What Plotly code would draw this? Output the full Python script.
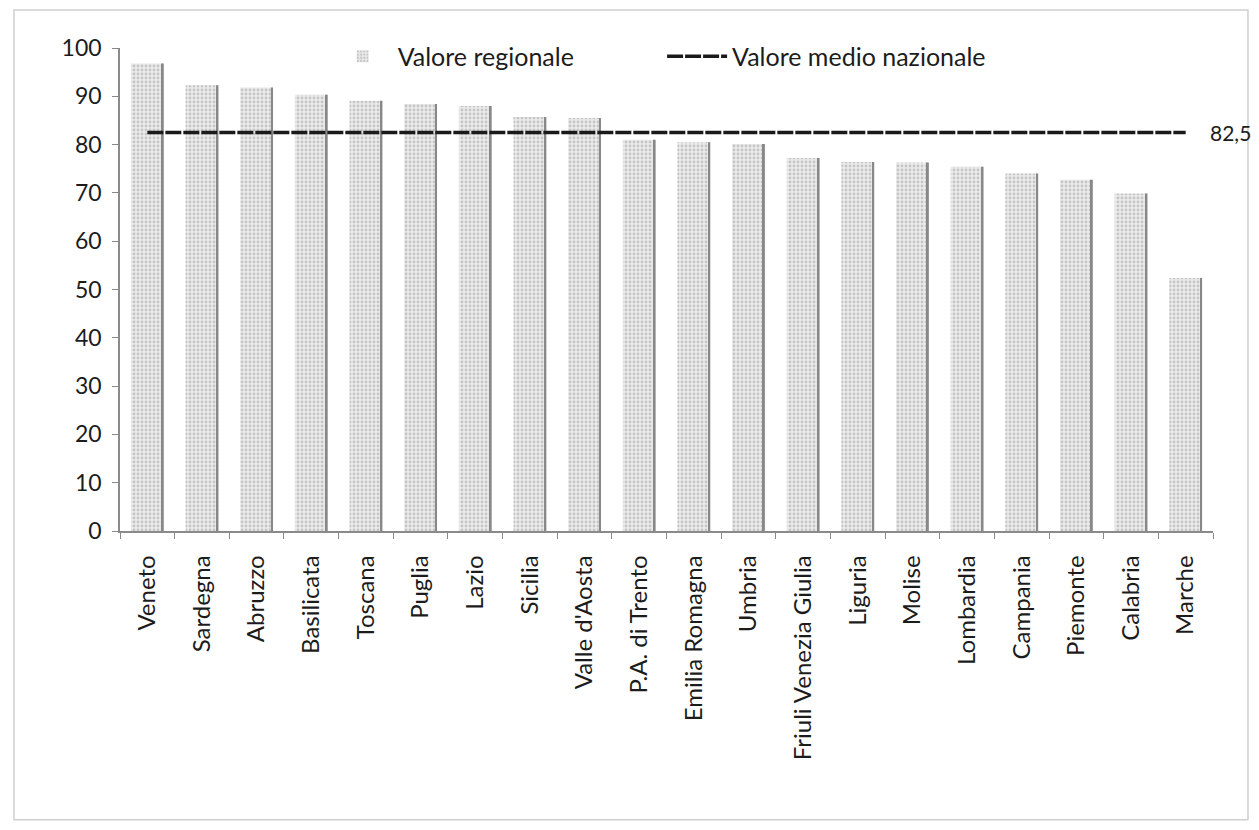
import plotly.graph_objects as go

regions = ["Veneto", "Sardegna", "Abruzzo", "Basilicata", "Toscana", "Puglia", "Lazio",
           "Sicilia", "Valle d'Aosta", "P.A. di Trento", "Emilia Romagna", "Umbria",
           "Friuli Venezia Giulia", "Liguria", "Molise", "Lombardia", "Campania",
           "Piemonte", "Calabria", "Marche"]
valore_regionale = [96.8, 92.3, 91.8, 90.3, 89.1, 88.4, 88.0, 85.7, 85.5, 81.0,
                    80.5, 80.1, 77.2, 76.4, 76.3, 75.4, 74.0, 72.7, 69.9, 52.4]
valore_nazionale = 82.5
y_ticks = [0, 10, 20, 30, 40, 50, 60, 70, 80, 90, 100]

FONT = "Lato"
TXT = "#1c1c1c"
PAD = "\u00a0" * 13

fig = go.Figure()
fig.add_trace(go.Bar(
    x=regions, y=valore_regionale, name="Valore regionale" + PAD,
    width=0.6, offset=-0.3,
    marker=dict(color="#e2e2e2", line=dict(width=0),
                pattern=dict(shape=".", fgcolor="#a0a0a0", bgcolor="#ebebeb",
                             size=4, solidity=0.4)),
))
fig.add_trace(go.Bar(
    x=regions, y=valore_regionale, showlegend=False, hoverinfo="skip",
    width=0.035, offset=0.265,
    marker=dict(color="#888888", line=dict(width=0)),
))
fig.add_trace(go.Scatter(
    x=regions, y=[valore_nazionale] * len(regions), mode="lines",
    name="Valore medio nazionale",
    line=dict(color="#1a1a1a", width=3.5, dash="16px,2px"),
))
fig.add_annotation(x=regions[-1], y=valore_nazionale, text=str(valore_nazionale).replace(".", ","),
                   xref="x", yref="y", xanchor="left", showarrow=False, xshift=22,
                   font=dict(family=FONT, size=21, color=TXT))

fig.add_shape(type="rect", xref="paper", yref="paper",
              x0=-0.097, x1=1.032, y0=-0.598, y1=1.0787,
              line=dict(color="#cfcfcf", width=1.5))

fig.update_layout(
    width=1251, height=814,
    margin=dict(l=112, r=46, t=40, b=291),
    paper_bgcolor="white", plot_bgcolor="white",
    barmode="overlay",
    font=dict(family=FONT, size=24, color=TXT),
    showlegend=True,
    legend=dict(orientation="h", x=0.19, y=1.03, xanchor="left", yanchor="top",
                font=dict(family=FONT, size=25, color=TXT),
                bgcolor="rgba(0,0,0,0)", itemwidth=60),
    xaxis=dict(type="category", tickangle=-90, showline=True, linecolor="#8a8a8a",
               linewidth=1.5, ticks="outside", ticklen=6, tickcolor="#8a8a8a",
               tickson="boundaries", showgrid=False, range=[-0.5, 19.5],
               ticklabelstandoff=13,
               tickfont=dict(family=FONT, size=24, color=TXT)),
    yaxis=dict(range=[0, 100], tickvals=y_ticks, showline=True, linecolor="#8a8a8a",
               linewidth=1.5, ticks="outside", ticklen=6, tickcolor="#8a8a8a",
               showgrid=False, zeroline=False, ticklabelstandoff=6,
               tickfont=dict(family=FONT, size=23, color=TXT)),
)

fig.write_html("out.html")
